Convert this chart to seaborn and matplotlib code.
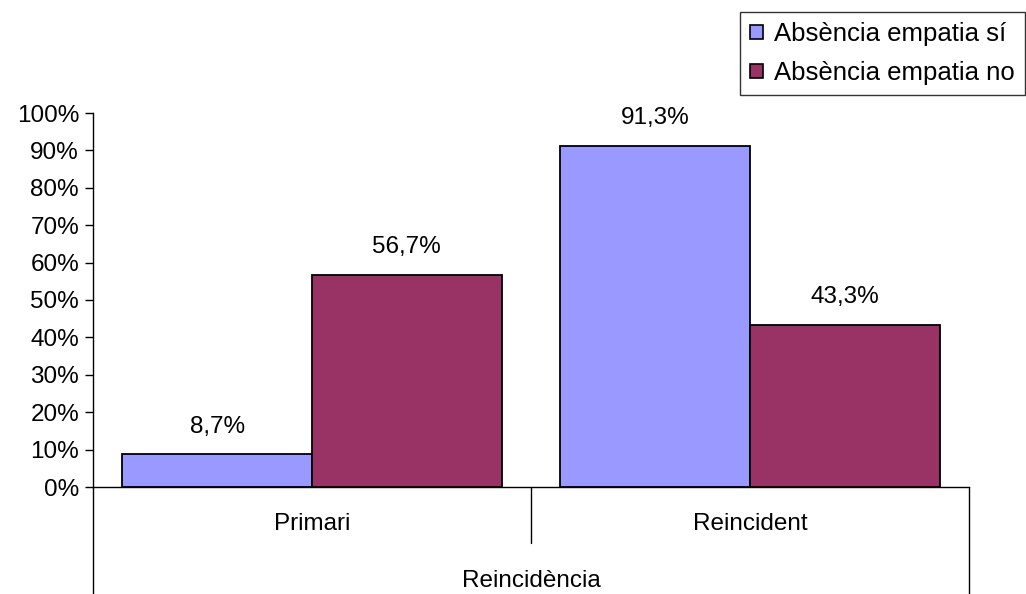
import pandas as pd
import numpy as np
import matplotlib
matplotlib.use('Agg')
import matplotlib.pyplot as plt
from matplotlib.ticker import PercentFormatter
import seaborn as sns

# Data
categories = ['Primari', 'Reincident']
series = ['Absència empatia sí', 'Absència empatia no']
values_si = [0.087, 0.913]
values_no = [0.567, 0.433]
colors = ['#9999FF', '#993366']

df = pd.DataFrame({
    'cat': categories * 2,
    'grp': [series[0]] * 2 + [series[1]] * 2,
    'val': values_si + values_no,
})

sns.set_style('white')
plt.rcParams['font.family'] = ['Liberation Sans', 'DejaVu Sans']
plt.rcParams['text.color'] = 'black'
plt.rcParams['xtick.color'] = 'black'
plt.rcParams['ytick.color'] = 'black'
plt.rcParams['axes.labelcolor'] = 'black'
fs = 17.5

fig = plt.figure(figsize=(10.26, 5.94), dpi=100)
ax = fig.add_axes([93 / 1026, 1 - 487 / 594, (969 - 93) / 1026, (487 - 113) / 594])

sns.barplot(ax=ax, data=df, x='cat', y='val', hue='grp', order=categories,
            hue_order=series, palette=colors, saturation=1, width=0.866,
            edgecolor='black', linewidth=1.3, errorbar=None)

ax.set_xlim(-0.5, 1.5)
ax.set_ylim(0, 1)
ax.set_yticks(np.arange(0, 1.01, 0.1))
ax.yaxis.set_major_formatter(PercentFormatter(1.0, decimals=0))
ax.tick_params(axis='y', length=6, width=1, color='black', labelcolor='black',
               labelsize=fs, pad=4, left=True)
ax.tick_params(axis='x', length=0, labelsize=fs, labelcolor='black', pad=19)
sns.despine(ax=ax)
for s in ['left', 'bottom']:
    ax.spines[s].set_color('black')
    ax.spines[s].set_linewidth(1)
ax.set_ylabel('')
ax.set_xlabel('Reincidència', fontsize=fs, labelpad=25, color='black')

# value labels
for cont in ax.containers:
    labels = [f'{v * 100:.1f}%'.replace('.', ',') for v in cont.datavalues]
    ax.bar_label(cont, labels=labels, padding=12, fontsize=fs, color='black')

# category separator lines below the axis
for xf, y0 in [(0, -0.286), (0.5, -0.15), (1, -0.286)]:
    ax.plot([xf, xf], [0, y0], transform=ax.transAxes, color='black',
            lw=1, clip_on=False)

leg = ax.legend(loc='upper right', bbox_to_anchor=(1025 / 1026, 1 - 12 / 594),
                bbox_transform=fig.transFigure, borderaxespad=0, fontsize=18.5,
                frameon=True, fancybox=False, handlelength=0.5, handleheight=0.5,
                handletextpad=0.42, labelspacing=0.58, borderpad=0.4)
leg.get_frame().set_edgecolor('black')
leg.get_frame().set_linewidth(1)
for t in leg.get_texts():
    t.set_color('black')
for h in leg.legend_handles:
    h.set_edgecolor('black')
    h.set_linewidth(1.2)

fig.savefig('out.png', dpi=100)
